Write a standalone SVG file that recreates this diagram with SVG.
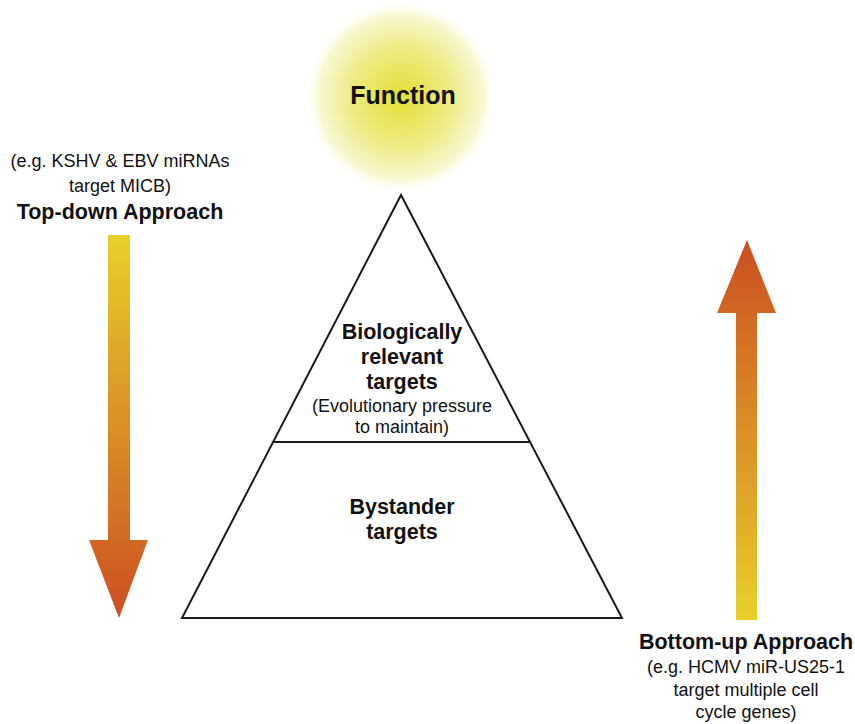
<svg xmlns="http://www.w3.org/2000/svg" width="855" height="724" viewBox="0 0 855 724">
  <style>
    text { font-family: "Liberation Sans", Arial, sans-serif; fill: #111; text-anchor: middle; }
    .b { font-weight: bold; }
    .big { font-size: 21.5px; }
    .sm { font-size: 18px; }
    .head { font-size: 21.5px; font-weight: bold; }
    .pyr { fill: #fff; stroke: #1a1a1a; stroke-width: 2; stroke-linejoin: miter; }
  </style>
  <defs>
    <radialGradient id="glow" cx="0.5" cy="0.5" r="0.5">
      <stop offset="0" stop-color="#e3de34"/>
      <stop offset="0.5" stop-color="#eeeb82"/>
      <stop offset="0.85" stop-color="#f8f7d2"/>
      <stop offset="1" stop-color="#ffffff" stop-opacity="0"/>
    </radialGradient>
    <linearGradient id="down" x1="0" y1="0" x2="0" y2="1">
      <stop offset="0" stop-color="#e8d02a"/>
      <stop offset="1" stop-color="#cc4e22"/>
    </linearGradient>
    <linearGradient id="up" x1="0" y1="1" x2="0" y2="0">
      <stop offset="0" stop-color="#e8d02a"/>
      <stop offset="1" stop-color="#cc4e22"/>
    </linearGradient>
  </defs>

  <rect width="855" height="724" fill="#fff"/>

  <!-- glowing "Function" sun -->
  <g id="function">
    <circle cx="401" cy="97" r="97" fill="url(#glow)"/>
    <text x="403" y="104" class="b" style="font-size:25px">Function</text>
  </g>

  <!-- pyramid -->
  <g id="pyramid">
    <polygon class="pyr" points="401,195 182,618 622,618"/>
    <line x1="273" y1="442" x2="529" y2="442" stroke="#1a1a1a" stroke-width="2"/>
  </g>

  <g id="relevant">
    <text x="402" y="339" class="b big">Biologically</text>
    <text x="402" y="364" class="b big">relevant</text>
    <text x="402" y="389" class="b big">targets</text>
    <text x="402" y="412" class="sm">(Evolutionary pressure</text>
    <text x="402" y="433" class="sm">to maintain)</text>
  </g>

  <g id="bystander">
    <text x="402" y="514" class="b big">Bystander</text>
    <text x="402" y="539" class="b big">targets</text>
  </g>

  <!-- top-down label -->
  <g id="top-down">
    <text x="120" y="167" class="sm">(e.g. KSHV &amp; EBV miRNAs</text>
    <text x="120" y="192" class="sm">target MICB)</text>
    <text x="120" y="219" class="head">Top-down Approach</text>
  </g>

  <!-- bottom-up label -->
  <g id="bottom-up">
    <text x="746" y="649" class="head">Bottom-up Approach</text>
    <text x="746" y="673" class="sm">(e.g. HCMV miR-US25-1</text>
    <text x="746" y="696" class="sm">target multiple cell</text>
    <text x="746" y="718" class="sm">cycle genes)</text>
  </g>

  <!-- direction arrows -->
  <g id="connectors">
    <polygon fill="url(#down)" points="108,235 130,235 130,540 148,540 119,618 89,540 108,540"/>
    <polygon fill="url(#up)" points="736,620 757,620 757,313 776,313 747,240 717,313 736,313"/>
  </g>
</svg>
